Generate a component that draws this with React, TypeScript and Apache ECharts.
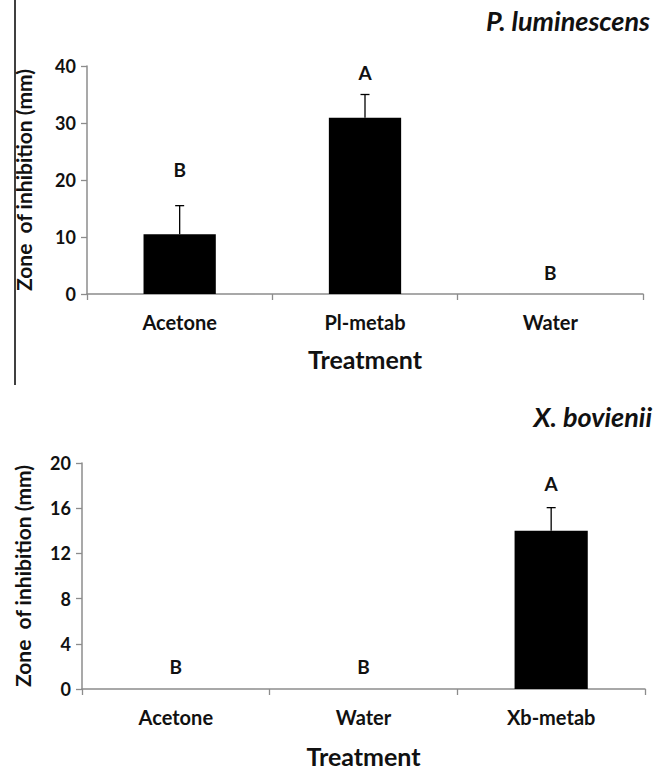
import React, { useEffect, useRef } from "react";
import * as echarts from "echarts";

const topCategories = ["Acetone", "Pl-metab", "Water"];
const topValues = [10.5, 30.9, 0];
const topErrors = [5.0, 4.1, 0];
const topLetters = ["B", "A", "B"];
const topLetterY = [21.8, 38.8, 3.7];

const botCategories = ["Acetone", "Water", "Xb-metab"];
const botValues = [0, 0, 14];
const botErrors = [0, 0, 2.05];
const botLetters = ["B", "B", "A"];
const botLetterY = [1.95, 1.95, 18.2];

const FONT = "Lato";

function errorSeries(values: number[], errors: number[], idx: number) {
  return {
    type: "custom",
    xAxisIndex: idx,
    yAxisIndex: idx,
    z: 3,
    data: values.map((v, i) => [i, v, v + errors[i]]),
    renderItem: (params: any, api: any) => {
      const x = api.value(0);
      const lo = api.coord([x, api.value(1)]);
      const hi = api.coord([x, api.value(2)]);
      if (api.value(2) === api.value(1)) return { type: "group", children: [] };
      return {
        type: "group",
        children: [
          { type: "line", shape: { x1: lo[0], y1: lo[1], x2: hi[0], y2: hi[1] }, style: { stroke: "#000", lineWidth: 1.3 } },
          { type: "line", shape: { x1: hi[0] - 4.5, y1: hi[1], x2: hi[0] + 4.5, y2: hi[1] }, style: { stroke: "#000", lineWidth: 1.3 } },
        ],
      };
    },
  };
}

function letterSeries(letters: string[], ys: number[], idx: number) {
  return {
    type: "custom",
    xAxisIndex: idx,
    yAxisIndex: idx,
    z: 4,
    data: ys.map((y, i) => [i, y]),
    renderItem: (params: any, api: any) => {
      const p = api.coord([api.value(0), api.value(1)]);
      return {
        type: "text",
        x: p[0],
        y: p[1],
        style: {
          text: letters[params.dataIndex],
          fill: "#111",
          font: `bold 19px ${FONT}`,
          align: "center",
          verticalAlign: "middle",
        },
      };
    },
  };
}

const axisColor = "#8c8c8c";

function xAxis(cats: string[], idx: number, nameGap: number) {
  return {
    type: "category",
    gridIndex: idx,
    data: cats,
    name: "Treatment",
    nameLocation: "middle",
    nameGap,
    nameTextStyle: { fontFamily: FONT, fontWeight: "bold", fontSize: 25, color: "#111" },
    axisLine: { lineStyle: { color: axisColor, width: 1.5 } },
    axisTick: { show: true, length: 6, lineStyle: { color: axisColor, width: 1.3 } },
    axisLabel: { margin: 18, fontFamily: FONT, fontWeight: "bold", fontSize: 20, color: "#111" },
  };
}

function yAxis(idx: number, max: number, interval: number, nameGap: number) {
  return {
    type: "value",
    gridIndex: idx,
    min: 0,
    max,
    interval,
    name: "Zone  of inhibition (mm)",
    nameLocation: "middle",
    nameGap,
    nameTextStyle: { fontFamily: FONT, fontWeight: "bold", fontSize: 21, color: "#111" },
    splitLine: { show: false },
    axisLine: { show: true, lineStyle: { color: axisColor, width: 1.5 } },
    axisTick: { show: true, length: 6, lineStyle: { color: axisColor, width: 1.3 } },
    axisLabel: { margin: 11, fontFamily: FONT, fontWeight: "bold", fontSize: 18, color: "#111" },
  };
}

export default function App() {
  const ref = useRef<HTMLDivElement>(null);
  useEffect(() => {
    if (!ref.current) return;
    const chart = echarts.init(ref.current, undefined, { renderer: "svg" });
    chart.setOption({
      animation: false,
      backgroundColor: "#fff",
      title: [
        { text: "P. luminescens", right: 16, top: 2, textStyle: { fontFamily: FONT, fontStyle: "italic", fontWeight: "bold", fontSize: 27, color: "#111" } },
        { text: "X. bovienii", right: 14, top: 398, textStyle: { fontFamily: FONT, fontStyle: "italic", fontWeight: "bold", fontSize: 27, color: "#111" } },
      ],
      graphic: [
        { type: "line", shape: { x1: 15, y1: 0, x2: 15, y2: 385 }, style: { stroke: "#000", lineWidth: 1.5 } },
      ],
      grid: [
        { left: 87, right: 28, top: 66, height: 228 },
        { left: 82, right: 26, top: 463, height: 228 },
      ],
      xAxis: [xAxis(topCategories, 0, 52), xAxis(botCategories, 1, 54)],
      yAxis: [yAxis(0, 40, 10, 53), yAxis(1, 20, 4, 49)],
      series: [
        { type: "bar", xAxisIndex: 0, yAxisIndex: 0, data: topValues, barWidth: "39%", itemStyle: { color: "#000" } },
        errorSeries(topValues, topErrors, 0),
        letterSeries(topLetters, topLetterY, 0),
        { type: "bar", xAxisIndex: 1, yAxisIndex: 1, data: botValues, barWidth: "39%", itemStyle: { color: "#000" } },
        errorSeries(botValues, botErrors, 1),
        letterSeries(botLetters, botLetterY, 1),
      ],
    });
    return () => chart.dispose();
  }, []);
  return <div ref={ref} style={{ position: "fixed", left: 0, top: 0, width: 671, height: 769 }} />;
}
